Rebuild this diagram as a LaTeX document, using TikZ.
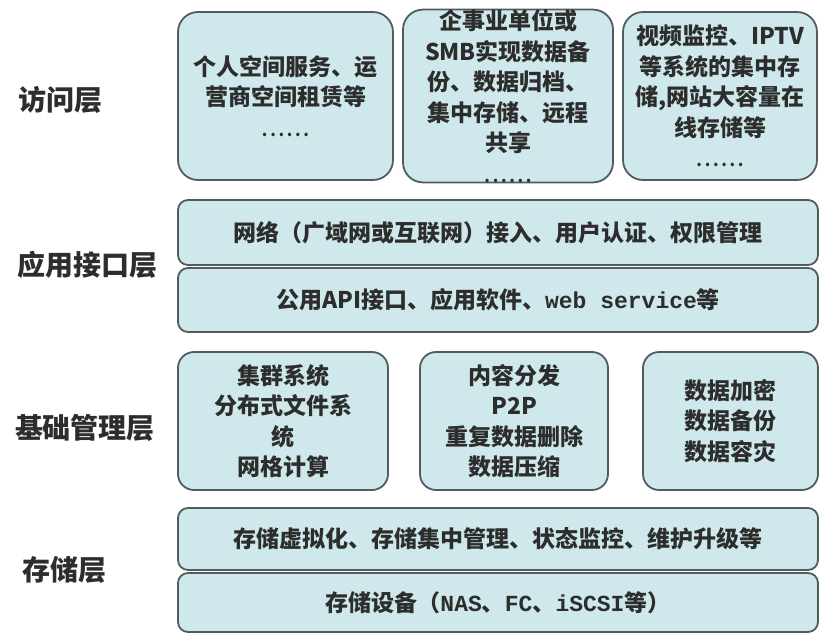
\documentclass[tikz,border=0pt]{standalone}
\usepackage{fontspec}
\setmainfont{Noto Sans CJK SC}
\newfontfamily\monof{Liberation Mono}
\definecolor{boxfill}{RGB}{206,232,235}
\definecolor{boxline}{RGB}{80,92,94}
\definecolor{txt}{RGB}{45,45,45}
\tikzset{
  layerbox/.style={draw=boxline, fill=boxfill, line width=1.8pt, align=center,
    text=txt, font=\fontsize{23}{30.5}\selectfont\bfseries, inner sep=0pt},
  tallbox/.style={layerbox, rounded corners=20pt},
  rowbox/.style={layerbox, rounded corners=10pt},
  layerlabel/.style={text=txt, font=\fontsize{28}{30}\selectfont\bfseries, inner sep=0pt}
}
\newcommand{\dotsrow}{{\fontsize{16}{16}\selectfont .\,.\,.\,.\,.\,.}}
\begin{document}
\begin{tikzpicture}[x=1pt,y=-1pt]
\useasboundingbox (0,0) rectangle (822,635);
% access layer
\node[tallbox, minimum width=215pt, minimum height=168pt] (a1) at (285.5,96)
  {个人空间服务、运\\营商空间租赁等\\\dotsrow};
\node[tallbox, minimum width=210pt, minimum height=168pt] (a2) at (508,96)
  {企事业单位或\\SMB实现数据备\\份、数据归档、\\集中存储、远程\\共享\\\dotsrow};
\node[tallbox, minimum width=194pt, minimum height=168pt] (a3) at (720,96)
  {视频监控、IPTV\\等系统的集中存\\储,网站大容量在\\线存储等\\\dotsrow};
% application interface layer
\node[rowbox, minimum width=640pt, minimum height=65pt] (b1) at (498,232.5)
  {网络（广域网或互联网）接入、用户认证、权限管理};
\node[rowbox, minimum width=640pt, minimum height=64pt] (b2) at (498,300)
  {公用API接口、应用软件、{\monof web service}等};
% base management layer
\node[tallbox, rounded corners=16pt, minimum width=210pt, minimum height=138pt] (c1) at (283,421)
  {集群系统\\分布式文件系\\统\\网格计算};
\node[tallbox, rounded corners=16pt, minimum width=188pt, minimum height=138pt] (c2) at (514,421)
  {内容分发\\P2P\\重复数据删除\\数据压缩};
\node[tallbox, rounded corners=16pt, minimum width=175pt, minimum height=138pt] (c3) at (730.5,421)
  {数据加密\\数据备份\\数据容灾};
% storage layer
\node[rowbox, minimum width=640pt, minimum height=62pt] (d1) at (498,539)
  {存储虚拟化、存储集中管理、状态监控、维护升级等};
\node[rowbox, minimum width=640pt, minimum height=59pt] (d2) at (498,602.5)
  {存储设备（{\monof NAS}、{\monof FC}、{\monof iSCSI}等）};
% layer labels
\node[layerlabel] (l1) at (60,100) {访问层};
\node[layerlabel] (l2) at (87,265) {应用接口层};
\node[layerlabel] (l3) at (85,428) {基础管理层};
\node[layerlabel] (l4) at (65,570) {存储层};
\end{tikzpicture}
\end{document}
